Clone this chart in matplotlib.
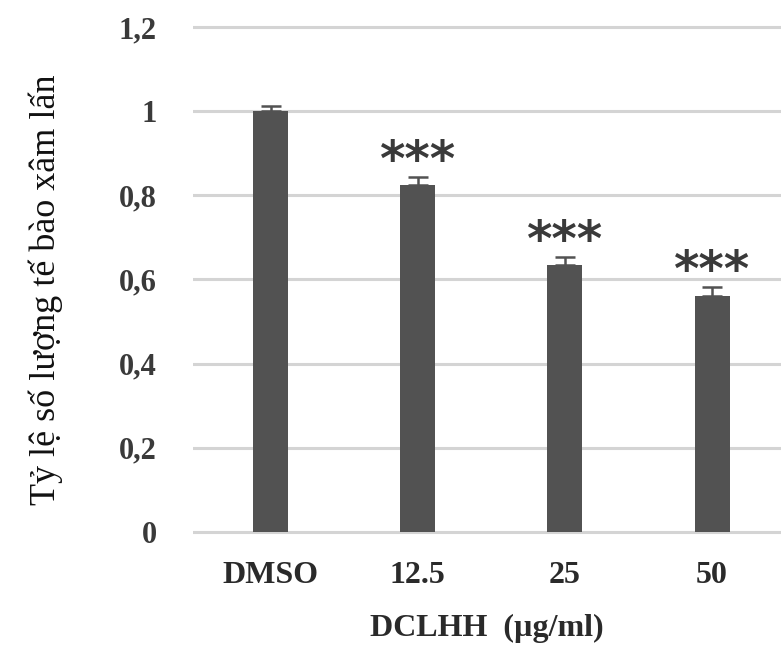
import matplotlib
matplotlib.use("Agg")
import matplotlib.pyplot as plt

# du lieu doc tu hinh
nhom = ["DMSO", "12.5", "25", "50"]
ty_le = [1.0, 0.825, 0.635, 0.561]
sai_so = [0.012, 0.019, 0.019, 0.021]
dau_sao = ["", "***", "***", "***"]
yticks = [0, 0.2, 0.4, 0.6, 0.8, 1.0, 1.2]
ytick_labels = ["0", "0,2", "0,4", "0,6", "0,8", "1", "1,2"]

plt.rcParams['font.family'] = ['Liberation Serif', 'DejaVu Serif']

fig = plt.figure(figsize=(7.81, 6.55), dpi=100)
ax = fig.add_axes([0.2471, 0.1814, 0.7529, 0.7838])

x = list(range(len(nhom)))
ax.bar(x, ty_le, width=0.238, color="#525252", zorder=3)
ax.errorbar(x, ty_le, yerr=[[0]*len(sai_so), sai_so], fmt="none",
            ecolor="#525252", elinewidth=1.8, capsize=7, capthick=1.8, zorder=4)

for xi, v, e, s in zip(x, ty_le, sai_so, dau_sao):
    if s:
        ax.text(xi, v + e + 0.035, s, ha="center", va="center",
                fontsize=35, fontweight="bold", color="#3a3a3a",
                family="DejaVu Sans", zorder=5)

ax.set_xlim(-0.527, 3.468)
ax.set_ylim(-0.01, 1.21)
ax.set_yticks(yticks)
ax.set_yticklabels(ytick_labels, fontsize=22, fontweight="bold", color="#3a3a3a")
ax.set_xticks(x)
ax.set_xticklabels(nhom, fontsize=23, fontweight="bold", color="#2a2a2a")
ax.tick_params(axis="y", length=0, pad=26)
ax.tick_params(axis="x", length=0, pad=18)
ax.grid(axis="y", color="#d4d4d4", linewidth=2.2, zorder=0)
for sp in ax.spines.values():
    sp.set_visible(False)

ax.set_xlabel("DCLHH  (µg/ml)", fontsize=23, fontweight="bold", color="#2a2a2a",
              labelpad=17)
fig.text(0.058, 0.557, "Tỷ lệ số lượng tế bào xâm lấn", rotation=90,
         ha="center", va="center", fontsize=26, color="#111111")

fig.savefig("out.png", dpi=100)
